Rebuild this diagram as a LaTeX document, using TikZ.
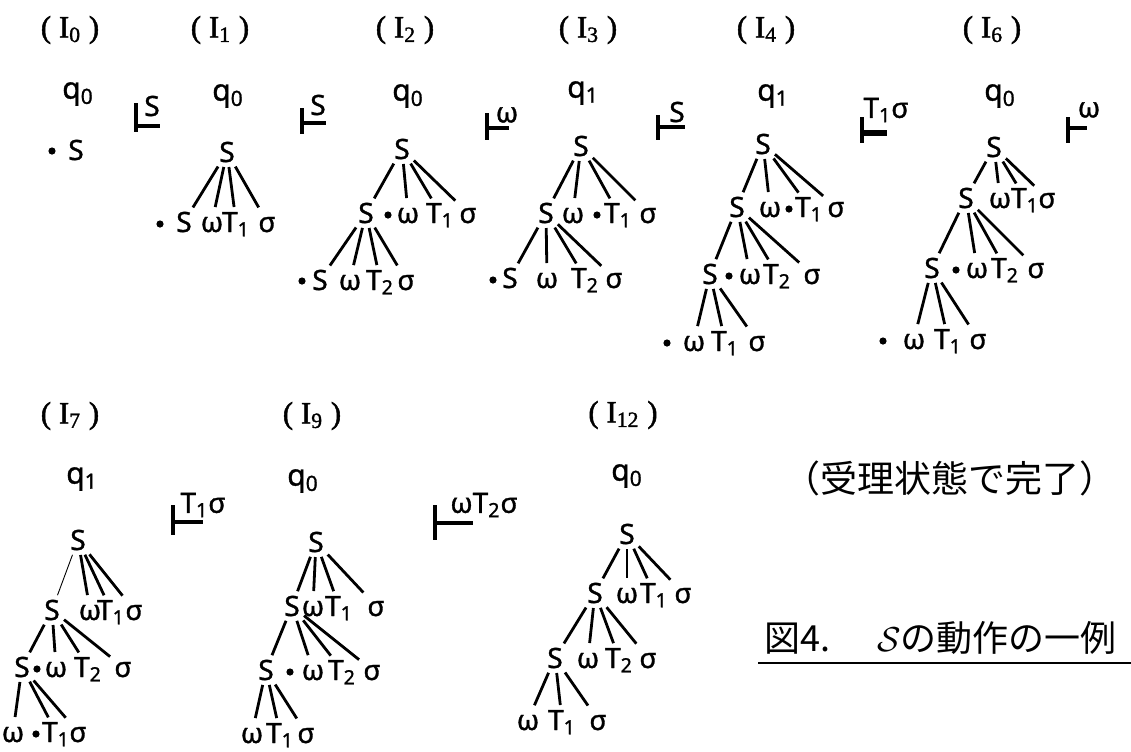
\documentclass[tikz,border=0pt]{standalone}
\usepackage{fontspec}
\setmainfont{Noto Sans}[FakeBold=1.2]
\newfontfamily\jpfont{Noto Sans CJK JP}
\newfontfamily\cfgfont{Liberation Serif}[FakeBold=1.5]
\usetikzlibrary{positioning}

\begin{document}
\begin{tikzpicture}[
  x=0.5pt, y=-0.5pt,
  sym/.style={font=\fontsize{14}{17}\selectfont, inner sep=0.8pt,
              text height=10pt, text depth=0pt},
  cfg/.style={font=\cfgfont\fontsize{15.5}{18}\selectfont, inner sep=1pt},
  qstate/.style={font=\fontsize{15}{18}\selectfont, inner sep=1pt},
  pointdot/.style={circle, fill, inner sep=0pt, minimum size=3.6pt},
  branch/.style={line width=1.4pt, shorten <=1.5pt, shorten >=1.5pt},
  faint/.style={line width=0.45pt, shorten <=1.5pt, shorten >=1.5pt},
  turn/.style={line width=2pt},
  tlab/.style={font=\fontsize{14}{16}\selectfont, inner sep=0.5pt},
  jp/.style={font=\jpfont\fontsize{18.5}{22}\selectfont, inner sep=0pt}
]
\useasboundingbox (0,0) rectangle (1131,751);
\fill[white] (0,0) rectangle (1131,751);

% first row
\node[cfg] (a0) at (70,30) {( I\textsubscript{0} )};
\node[qstate] (q0) at (78,94) {q\textsubscript{0}};
\node[pointdot] (d0) at (52,151) {};
\node[sym] (t0) at (76,150) {S};

\draw[turn] (136,103) -- (136,132) (136,126) -- (160,126);
\node[tlab] (y1) at (152,106) {S};

\node[cfg] (a1) at (220,30) {( I\textsubscript{1} )};
\node[qstate] (q1) at (228,96) {q\textsubscript{0}};
\node[sym] (t1) at (227,152) {S};
\node[pointdot] (d1) at (160,224) {};
\node[sym] (t1a) at (184,222) {S};
\node[sym] (t1b) at (212,222) {ω};
\node[sym] (t1c) at (236,222) {T\textsubscript{1}};
\node[sym] (t1d) at (267,222) {σ};
\foreach \c in {t1a,t1b,t1c,t1d} \draw[branch] (t1) -- (\c);

\draw[turn] (302,108) -- (302,134) (302,123) -- (326,123);
\node[tlab] (y2) at (318,105) {S};

\node[cfg] (a2) at (405,30) {( I\textsubscript{2} )};
\node[qstate] (q2) at (408,96) {q\textsubscript{0}};
\node[sym] (t2) at (402,149) {S};
\node[sym] (t2a) at (366,213) {S};
\node[pointdot] (d2) at (388,215) {};
\node[sym] (t2b) at (408,213) {ω};
\node[sym] (t2c) at (440,213) {T\textsubscript{1}};
\node[sym] (t2d) at (468,213) {σ};
\node[pointdot] (d2b) at (302,281) {};
\node[sym] (t2aa) at (320,280) {S};
\node[sym] (t2ab) at (350,280) {ω};
\node[sym] (t2ac) at (380,280) {T\textsubscript{2}};
\node[sym] (t2ad) at (406,280) {σ};
\foreach \c in {t2a,t2b,t2c,t2d} \draw[branch] (t2) -- (\c);
\foreach \c in {t2aa,t2ab,t2ac,t2ad} \draw[branch] (t2a) -- (\c);

\draw[turn] (487,113) -- (487,140) (487,128) -- (509,128);
\node[tlab] (y3) at (507,115) {ω};

\node[cfg] (a3) at (588,30) {( I\textsubscript{3} )};
\node[qstate] (q3) at (583,93) {q\textsubscript{1}};
\node[sym] (t3) at (581,146) {S};
\node[sym] (t3a) at (546,213) {S};
\node[sym] (t3b) at (573,213) {ω};
\node[pointdot] (d3) at (597,215) {};
\node[sym] (t3c) at (618,213) {T\textsubscript{1}};
\node[sym] (t3d) at (648,213) {σ};
\node[pointdot] (d3b) at (493,280) {};
\node[sym] (t3aa) at (510,278) {S};
\node[sym] (t3ab) at (547,278) {ω};
\node[sym] (t3ac) at (585,278) {T\textsubscript{2}};
\node[sym] (t3ad) at (614,278) {σ};
\foreach \c in {t3a,t3b,t3c,t3d} \draw[branch] (t3) -- (\c);
\foreach \c in {t3aa,t3ab,t3ac,t3ad} \draw[branch] (t3a) -- (\c);

\draw[turn] (658,115) -- (658,140) (658,127) -- (685,127);
\node[tlab] (y4) at (677,112) {S};

\node[cfg] (a4) at (766,30) {( I\textsubscript{4} )};
\node[qstate] (q4) at (773,96) {q\textsubscript{1}};
\node[sym] (t4) at (763,144) {S};
\node[sym] (t4a) at (737,207) {S};
\node[sym] (t4b) at (770,207) {ω};
\node[pointdot] (d4) at (789,209) {};
\node[sym] (t4c) at (809,207) {T\textsubscript{1}};
\node[sym] (t4d) at (836,207) {σ};
\node[sym] (t4aa) at (710,274) {S};
\node[pointdot] (d4b) at (729,276) {};
\node[sym] (t4ab) at (750,274) {ω};
\node[sym] (t4ac) at (777,274) {T\textsubscript{2}};
\node[sym] (t4ad) at (812,274) {σ};
\node[pointdot] (d4c) at (667,343) {};
\node[sym] (t4aaa) at (694,341) {ω};
\node[sym] (t4aab) at (725,341) {T\textsubscript{1}};
\node[sym] (t4aac) at (757,341) {σ};
\foreach \c in {t4a,t4b,t4c,t4d} \draw[branch] (t4) -- (\c);
\foreach \c in {t4aa,t4ab,t4ac,t4ad} \draw[branch] (t4a) -- (\c);
\foreach \c in {t4aaa,t4aab,t4aac} \draw[branch] (t4aa) -- (\c);

\draw[turn] (862,117) -- (862,143);
\draw[turn, line width=2.6pt] (862,133) -- (887,133);
\node[tlab] (y5) at (886,110) {T\textsubscript{1}σ};

\node[cfg] (a6) at (992,30) {( I\textsubscript{6} )};
\node[qstate] (q6) at (1000,96) {q\textsubscript{0}};
\node[sym] (t6) at (994,147) {S};
\node[sym] (t6a) at (966,198) {S};
\node[sym] (t6b) at (1000,198) {ω};
\node[sym] (t6c) at (1025,198) {T\textsubscript{1}};
\node[sym] (t6d) at (1047,198) {σ};
\node[sym] (t6aa) at (932,268) {S};
\node[pointdot] (d6) at (956,270) {};
\node[sym] (t6ab) at (977,268) {ω};
\node[sym] (t6ac) at (1005,268) {T\textsubscript{2}};
\node[sym] (t6ad) at (1036,268) {σ};
\node[pointdot] (d6b) at (883,341) {};
\node[sym] (t6aaa) at (914,339) {ω};
\node[sym] (t6aab) at (948,339) {T\textsubscript{1}};
\node[sym] (t6aac) at (978,339) {σ};
\foreach \c in {t6a,t6b,t6c,t6d} \draw[branch] (t6) -- (\c);
\foreach \c in {t6aa,t6ab,t6ac,t6ad} \draw[branch] (t6a) -- (\c);
\foreach \c in {t6aaa,t6aab,t6aac} \draw[branch] (t6aa) -- (\c);

\draw[turn] (1068,117) -- (1068,143) (1068,128) -- (1087,128);
\node[tlab] (y6) at (1089,110) {ω};

% second row
\node[cfg] (a7) at (70,416) {( I\textsubscript{7} )};
\node[qstate] (q7) at (82,479) {q\textsubscript{1}};
\node[sym] (t7) at (78,540) {S};
\node[sym] (t7a) at (52,610) {S};
\node[sym] (t7b) at (90,610) {ω};
\node[sym] (t7c) at (111,610) {T\textsubscript{1}};
\node[sym] (t7d) at (134,610) {σ};
\node[sym] (t7aa) at (22,667) {S};
\node[pointdot] (d7) at (37,669) {};
\node[sym] (t7ab) at (56,667) {ω};
\node[sym] (t7ac) at (88,667) {T\textsubscript{2}};
\node[sym] (t7ad) at (123,667) {σ};
\node[sym] (t7aaa) at (13,732) {ω};
\node[pointdot] (d7b) at (36,734) {};
\node[sym] (t7aab) at (56,732) {T\textsubscript{1}};
\node[sym] (t7aac) at (78,732) {σ};
\draw[faint] (t7) -- (t7a);
\foreach \c in {t7b,t7c,t7d} \draw[branch] (t7) -- (\c);
\foreach \c in {t7aa,t7ab,t7ac,t7ad} \draw[branch] (t7a) -- (\c);
\foreach \c in {t7aaa,t7aab,t7aac} \draw[branch] (t7aa) -- (\c);

\draw[turn] (173,505) -- (173,535) (173,522) -- (203,522);
\node[tlab] (y7) at (203,505) {T\textsubscript{1}σ};

\node[cfg] (a9) at (312,416) {( I\textsubscript{9} )};
\node[qstate] (q9) at (303,481) {q\textsubscript{0}};
\node[sym] (t9) at (316,542) {S};
\node[sym] (t9a) at (292,606) {S};
\node[sym] (t9b) at (313,606) {ω};
\node[sym] (t9c) at (339,606) {T\textsubscript{1}};
\node[sym] (t9d) at (376,606) {σ};
\node[sym] (t9aa) at (266,670) {S};
\node[pointdot] (d9) at (290,672) {};
\node[sym] (t9ab) at (313,670) {ω};
\node[sym] (t9ac) at (342,670) {T\textsubscript{2}};
\node[sym] (t9ad) at (372,670) {σ};
\node[sym] (t9aaa) at (252,733) {ω};
\node[sym] (t9aab) at (280,733) {T\textsubscript{1}};
\node[sym] (t9aac) at (306,733) {σ};
\foreach \c in {t9a,t9b,t9c,t9d} \draw[branch] (t9) -- (\c);
\foreach \c in {t9aa,t9ab,t9ac,t9ad} \draw[branch] (t9a) -- (\c);
\foreach \c in {t9aaa,t9aab,t9aac} \draw[branch] (t9aa) -- (\c);

\draw[turn] (435,505) -- (435,540) (435,523) -- (473,523);
\node[tlab] (y8) at (484,505) {ωT\textsubscript{2}σ};

\node[cfg] (a12) at (623,415) {( I\textsubscript{12} )};
\node[qstate] (q12) at (627,476) {q\textsubscript{0}};
\node[sym] (t12) at (627,534) {S};
\node[sym] (t12a) at (595,593) {S};
\node[sym] (t12b) at (627,593) {ω};
\node[sym] (t12c) at (654,593) {T\textsubscript{1}};
\node[sym] (t12d) at (683,593) {σ};
\node[sym] (t12aa) at (555,658) {S};
\node[sym] (t12ab) at (588,658) {ω};
\node[sym] (t12ac) at (619,658) {T\textsubscript{2}};
\node[sym] (t12ad) at (648,658) {σ};
\node[sym] (t12aaa) at (528,720) {ω};
\node[sym] (t12aab) at (562,720) {T\textsubscript{1}};
\node[sym] (t12aac) at (598,720) {σ};
\foreach \c in {t12a,t12b,t12c,t12d} \draw[branch] (t12) -- (\c);
\foreach \c in {t12aa,t12ab,t12ac,t12ad} \draw[branch] (t12a) -- (\c);
\foreach \c in {t12aaa,t12aab,t12aac} \draw[branch] (t12aa) -- (\c);

\node[jp] (done) at (950,478) {（受理状態で完了）};
\node[jp, font=\jpfont\fontsize{18}{21}\selectfont, anchor=west] (fig)
  at (764,638) {図4.\hspace{1.3em}$\mathcal{S}$の動作の一例};
\draw[line width=1.2pt] (758,663) -- (1131,663);
\end{tikzpicture}
\end{document}
